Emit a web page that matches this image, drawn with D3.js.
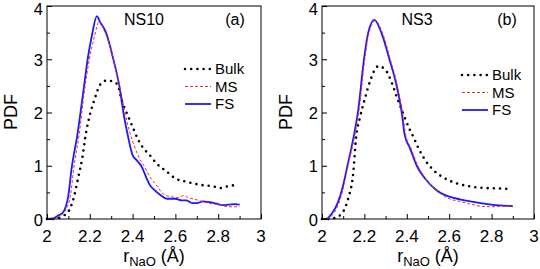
<!DOCTYPE html>
<html>
<head>
<meta charset="utf-8">
<script src="https://cdn.jsdelivr.net/npm/d3@7"></script>
<style>
  body { margin: 0; padding: 0; background: #fff; }
  svg { display: block; font-family: "Liberation Sans", Arial, sans-serif; }
</style>
</head>
<body>
<svg id="chart" width="540" height="269"></svg>
<script>
  // panel (a) NS10
  let aFsX   = [2.0,2.03,2.05,2.076,2.10,2.115,2.142,2.17,2.19,2.21,2.233,2.248,2.276,2.31,2.338,2.357,2.377,2.40,2.42,2.44,2.466,2.48,2.50,2.53,2.56,2.60,2.63,2.65,2.68,2.70,2.73,2.75,2.78,2.80,2.82,2.85,2.88,2.90];
  let aFsY   = [0,0.01,0.06,0.13,0.45,0.95,1.58,2.4,3.0,3.45,3.81,3.7,3.5,3.0,2.5,2.0,1.58,1.2,1.1,1.0,0.76,0.64,0.55,0.45,0.38,0.38,0.35,0.35,0.30,0.30,0.33,0.32,0.30,0.28,0.26,0.27,0.28,0.27];
  let aMsX   = [2.0,2.04,2.06,2.085,2.11,2.125,2.15,2.175,2.198,2.22,2.245,2.26,2.29,2.32,2.345,2.364,2.385,2.41,2.43,2.453,2.48,2.51,2.55,2.58,2.61,2.64,2.66,2.70,2.75,2.80,2.85,2.90];
  let aMsY   = [0,0.01,0.06,0.15,0.45,0.95,1.58,2.4,3.0,3.4,3.72,3.6,3.3,2.85,2.4,2.0,1.65,1.35,1.15,1.0,0.8,0.64,0.45,0.42,0.40,0.44,0.40,0.36,0.30,0.27,0.23,0.23];
  let aBulkX = [2.0,2.04,2.07,2.10,2.125,2.147,2.165,2.182,2.20,2.224,2.248,2.276,2.31,2.33,2.349,2.377,2.40,2.427,2.45,2.48,2.51,2.56,2.60,2.65,2.72,2.78,2.81,2.85,2.89];
  let aBulkY = [0,0,0.05,0.14,0.40,0.80,1.15,1.61,1.95,2.27,2.52,2.60,2.58,2.52,2.23,1.95,1.73,1.48,1.33,1.2,1.05,0.89,0.76,0.70,0.64,0.61,0.58,0.62,0.64];

  // panel (b) NS3
  let bFsX   = [2.0,2.02,2.046,2.077,2.10,2.12,2.151,2.171,2.198,2.218,2.247,2.28,2.318,2.352,2.376,2.39,2.415,2.447,2.486,2.54,2.60,2.65,2.70,2.78,2.855,2.90];
  let bFsY   = [0,0,0.1,0.33,0.64,1.0,1.58,2.05,3.0,3.5,3.74,3.5,3.0,2.5,2.0,1.58,1.33,1.0,0.76,0.54,0.42,0.37,0.33,0.28,0.25,0.24];
  let bMsX   = [2.0,2.025,2.05,2.08,2.103,2.123,2.155,2.175,2.202,2.222,2.252,2.285,2.322,2.356,2.38,2.395,2.42,2.452,2.49,2.545,2.60,2.65,2.70,2.75,2.80,2.85,2.90];
  let bMsY   = [0,0,0.08,0.3,0.62,1.0,1.58,2.05,3.0,3.5,3.72,3.5,3.0,2.5,2.0,1.58,1.33,1.0,0.75,0.52,0.38,0.33,0.28,0.24,0.23,0.24,0.23];
  let bBulkX = [2.0,2.04,2.07,2.093,2.124,2.148,2.16,2.18,2.203,2.226,2.266,2.297,2.33,2.352,2.376,2.415,2.43,2.455,2.486,2.525,2.572,2.635,2.70,2.78,2.855,2.89];
  let bBulkY = [0,0,0.04,0.1,0.39,0.89,1.5,1.92,2.27,2.58,2.87,2.81,2.55,2.3,2.05,1.67,1.55,1.33,1.11,0.92,0.78,0.67,0.61,0.58,0.57,0.56];

  let seriesNames = ['Bulk', 'MS', 'FS'];
  let xTicks = [2, 2.2, 2.4, 2.6, 2.8, 3];
  let yTicks = [0, 1, 2, 3, 4];

  let svg = d3.select('#chart');

  let styles = {
    Bulk: { color: '#000', w: 2.6, dash: '0 6.2', cap: 'round' },
    MS:   { color: '#f03030', w: 1, dash: '3 2', cap: 'butt' },
    FS:   { color: '#1a1aff', w: 1.8, dash: null, cap: 'butt' }
  };

  function panel(p) {
    let x = d3.scaleLinear().domain([2, 3]).range([p.left, p.right]);
    let y = d3.scaleLinear().domain([0, 4]).range([219, 6]);
    let g = svg.append('g');

    let line = (xs, ys) => d3.line()
      .x(i => x(xs[i])).y(i => y(ys[i]))
      .curve(d3.curveMonotoneX)(d3.range(xs.length));

    // bulk first, MS drawn over FS
    let drawOrder = [['Bulk', p.bulk], ['FS', p.fs], ['MS', p.ms]];
    drawOrder.forEach(([name, d]) => {
      let s = styles[name];
      g.append('path')
        .attr('d', line(d[0], d[1]))
        .attr('fill', 'none')
        .attr('stroke', s.color)
        .attr('stroke-width', s.w)
        .attr('stroke-linecap', s.cap)
        .attr('stroke-dasharray', s.dash);
    });

    // frame
    g.append('rect')
      .attr('x', p.left).attr('y', 6)
      .attr('width', p.right - p.left).attr('height', 213)
      .attr('fill', 'none').attr('stroke', '#000').attr('stroke-width', 1);

    // inward ticks
    let xAxis = d3.axisBottom(x).tickValues(d3.range(2, 3.001, 0.1))
      .tickSize(-4).tickFormat('');
    g.append('g').attr('transform', 'translate(0,219)').call(xAxis)
      .call(a => a.select('.domain').remove())
      .selectAll('line').attr('y2', (d, i) => i % 2 === 0 ? -5 : -3);
    g.selectAll('.xlab').data(xTicks).enter().append('text')
      .attr('x', d => x(d)).attr('y', 242)
      .attr('text-anchor', 'middle').attr('font-size', 17)
      .text(d => d);

    let yAxis = d3.axisLeft(y).tickValues(d3.range(0, 4.001, 0.5))
      .tickSize(-4).tickFormat('');
    g.append('g').attr('transform', `translate(${p.left},0)`).call(yAxis)
      .call(a => a.select('.domain').remove())
      .selectAll('line').attr('x2', (d, i) => i % 2 === 0 ? 5 : 3);
    // top label kept inside the page
    g.selectAll('.ylab').data(yTicks).enter().append('text')
      .attr('x', p.left - 4).attr('y', d => Math.max(y(d) + 6.5, 15))
      .attr('text-anchor', 'end').attr('font-size', 16.5)
      .text(d => d);

    // axis titles
    g.append('text')
      .attr('transform', `translate(${p.left - 30},${112}) rotate(-90)`)
      .attr('text-anchor', 'middle').attr('font-size', 18)
      .text('PDF');
    let xt = g.append('text')
      .attr('x', (p.left + p.right) / 2).attr('y', 262)
      .attr('text-anchor', 'middle').attr('font-size', 18);
    xt.append('tspan').text('r');
    xt.append('tspan').attr('font-size', 13).attr('dy', 4).text('NaO');
    xt.append('tspan').attr('dy', -4).text(' (Å)');

    // titles
    g.append('text').attr('x', p.titleX).attr('y', 25)
      .attr('text-anchor', 'middle').attr('font-size', 16).text(p.title);
    g.append('text').attr('x', p.tagX).attr('y', 25)
      .attr('text-anchor', 'middle').attr('font-size', 16).text(p.tag);

    // legend
    seriesNames.forEach((name, i) => {
      let s = styles[name];
      let ly = p.legY + i * 17.5;
      g.append('line')
        .attr('x1', p.legX).attr('x2', p.legX + 26)
        .attr('y1', ly).attr('y2', ly)
        .attr('stroke', s.color).attr('stroke-width', s.w)
        .attr('stroke-linecap', s.cap).attr('stroke-dasharray', s.dash);
      g.append('text')
        .attr('x', p.legX + 30).attr('y', ly + 5)
        .attr('font-size', 15).text(name);
    });
  }

  panel({ left: 47, right: 261, title: 'NS10', titleX: 144, tag: '(a)', tagX: 235,
          legX: 185, legY: 69,
          fs: [aFsX, aFsY], ms: [aMsX, aMsY], bulk: [aBulkX, aBulkY] });
  panel({ left: 322, right: 534, title: 'NS3', titleX: 417, tag: '(b)', tagX: 507,
          legX: 462, legY: 75,
          fs: [bFsX, bFsY], ms: [bMsX, bMsY], bulk: [bBulkX, bBulkY] });
</script>
</body>
</html>
